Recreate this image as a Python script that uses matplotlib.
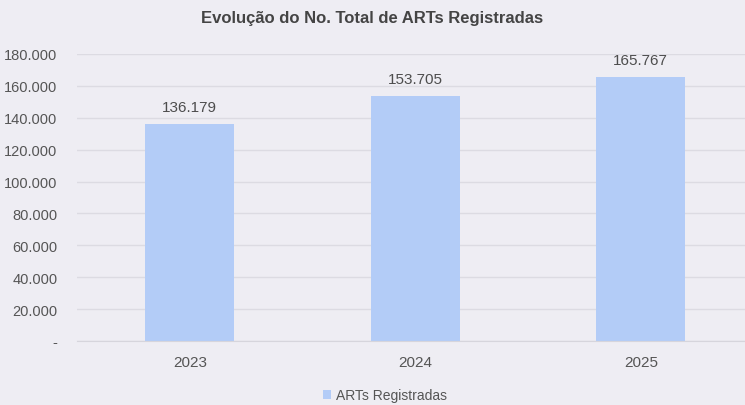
import matplotlib
matplotlib.use("Agg")
import matplotlib.pyplot as plt
from matplotlib.ticker import FuncFormatter

anos = ["2023", "2024", "2025"]
arts = [136179, 153705, 165767]
yticks = [0, 20000, 40000, 60000, 80000, 100000, 120000, 140000, 160000, 180000]

plt.rcParams['font.family'] = ['Liberation Sans', 'DejaVu Sans']

def fmt_pt(v, pos=None):
    if v == 0:
        return "-"
    return f"{int(v):,}".replace(",", ".")

bg = "#eeedf3"
fig = plt.figure(figsize=(7.45, 4.06), dpi=100, facecolor=bg)
ax = fig.add_axes([77/745, (406-342)/406, (745-77)/745, (342-55)/406], facecolor=bg)

x = range(len(anos))
ax.bar(x, arts, width=0.395, color="#b3ccf7", label="ARTs Registradas", zorder=2)
for xi, v in zip(x, arts):
    ax.text(xi, v + 6000, fmt_pt(v), ha="center", va="bottom", fontsize=11, color="#4d4d4d")

ax.set_xlim(-0.5, 2.462)
ax.set_ylim(0, 180000)
ax.set_yticks(yticks)
ax.yaxis.set_major_formatter(FuncFormatter(fmt_pt))
ax.set_xticks(list(x))
ax.set_xticklabels(anos)
ax.tick_params(axis="both", length=0, labelsize=11, labelcolor="#555555")
ax.tick_params(axis="y", labelsize=10.5, pad=14)
ax.tick_params(axis="x", pad=10)
ax.grid(axis="y", color="#dcdbe2", linewidth=1, zorder=0)
for s in ["top", "right", "left"]:
    ax.spines[s].set_visible(False)
ax.spines["bottom"].set_color("#d6d5dc")

fig.text(0.5, 1 - 18/406, "Evolução do No. Total de ARTs Registradas", ha="center", va="center",
         fontsize=12, fontweight="bold", color="#444444")

fig.legend(loc="center", bbox_to_anchor=(385/745, 1 - 396/406), frameon=False, fontsize=10,
           handlelength=0.6, handleheight=0.6, handletextpad=0.4, labelcolor="#555555")

fig.savefig("out.png", dpi=100, facecolor=bg)
